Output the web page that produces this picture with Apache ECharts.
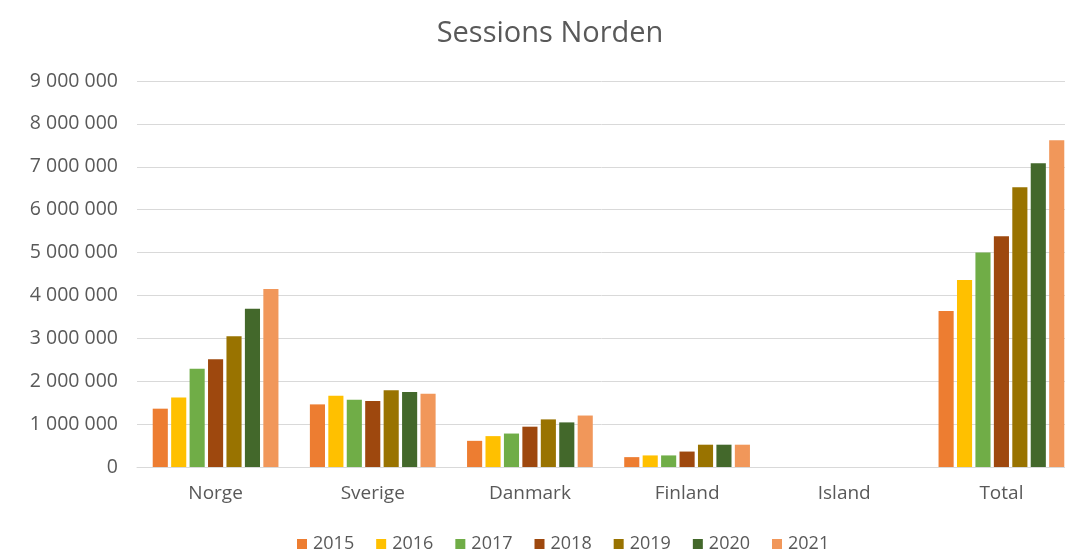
<!DOCTYPE html>
<html>
<head>
<meta charset="utf-8">
<title>Sessions Norden</title>
<script src="https://cdn.jsdelivr.net/npm/echarts@6/dist/echarts.min.js"></script>
<style>
  html, body { margin: 0; padding: 0; background: #fff; }
  #chart { width: 1065px; height: 552px; }
</style>
</head>
<body>
<div id="chart"></div>
<script>
const countries = ["Norge", "Sverige", "Danmark", "Finland", "Island", "Total"];
const years = ["2015", "2016", "2017", "2018", "2019", "2020", "2021"];

// sessions per country, one array per year (Norge, Sverige, Danmark, Finland, Island, Total)
const s2015 = [1360000, 1460000, 610000, 230000, 0, 3640000];
const s2016 = [1620000, 1660000, 720000, 270000, 0, 4360000];
const s2017 = [2290000, 1570000, 780000, 270000, 0, 5000000];
const s2018 = [2510000, 1540000, 940000, 360000, 0, 5380000];
const s2019 = [3050000, 1790000, 1110000, 520000, 0, 6520000];
const s2020 = [3690000, 1750000, 1040000, 520000, 0, 7080000];
const s2021 = [4150000, 1710000, 1200000, 520000, 0, 7620000];
const seriesValues = [s2015, s2016, s2017, s2018, s2019, s2020, s2021];

const yearColors = ["#ED7D31", "#FFC000", "#70AD47", "#9E480E", "#997300", "#43682B", "#F1975A"];

const font = "'Open Sans', 'Noto Sans', sans-serif";
const textColor = "#595959";
const lineColor = "#d9d9d9";

function fmt(v) {
  return String(v).replace(/\B(?=(\d{3})+(?!\d))/g, " ");
}

const chart = echarts.init(document.getElementById("chart"));

chart.setOption({
  animation: false,
  color: yearColors,
  title: {
    text: "Sessions Norden",
    left: 545,
    textAlign: "center",
    top: 14,
    textStyle: {
      color: textColor,
      fontFamily: font,
      fontSize: 29,
      fontWeight: "normal"
    }
  },
  legend: {
    data: years,
    left: 292,
    top: 530,
    itemWidth: 10,
    itemHeight: 10,
    itemGap: 22,
    icon: "rect",
    textStyle: {
      color: textColor,
      fontFamily: font,
      fontSize: 18,
      padding: [0, 0, 0, 1]
    }
  },
  grid: {
    left: 137,
    top: 81,
    bottom: 85,
    width: 943,
    outerBoundsMode: "none"
  },
  xAxis: {
    type: "category",
    data: countries,
    axisTick: { show: false },
    axisLine: { lineStyle: { color: lineColor, width: 1 } },
    axisLabel: {
      color: textColor,
      fontFamily: font,
      fontSize: 19,
      margin: 17
    }
  },
  yAxis: {
    type: "value",
    min: 0,
    max: 9000000,
    interval: 1000000,
    axisLine: { show: false },
    axisTick: { show: false },
    splitLine: { lineStyle: { color: lineColor, width: 1 } },
    axisLabel: {
      color: textColor,
      fontFamily: font,
      fontSize: 19.5,
      margin: 19,
      formatter: fmt
    }
  },
  series: years.map((y, i) => ({
    name: y,
    type: "bar",
    data: seriesValues[i],
    barGap: "22%",
    barCategoryGap: "20%"
  }))
});
</script>
</body>
</html>
